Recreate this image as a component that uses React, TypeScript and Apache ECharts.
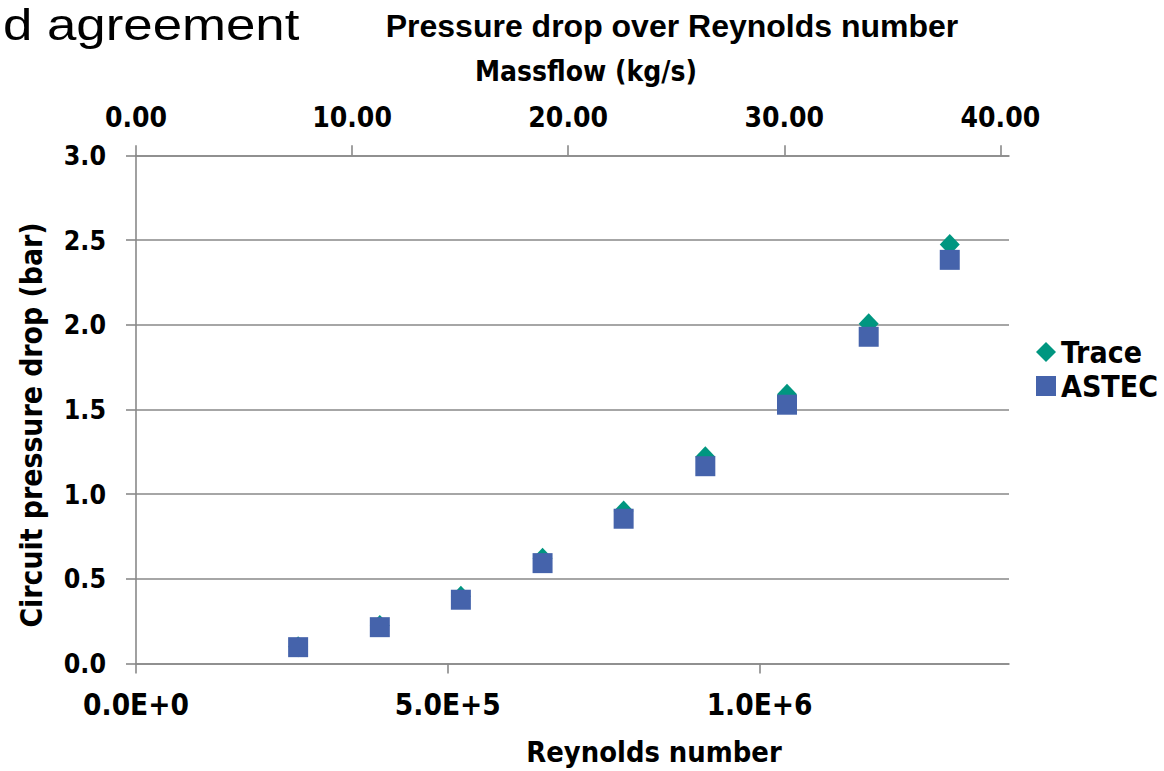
import React, { useEffect, useRef } from "react";
import * as echarts from "echarts";

// Data
const reynolds = [260000, 391000, 521000, 652000, 782000, 913000, 1044000, 1175000, 1305000];
const traceDrop = [0.1, 0.225, 0.398, 0.622, 0.9, 1.221, 1.589, 2.006, 2.474];
const astecDrop = [0.097, 0.215, 0.377, 0.593, 0.855, 1.165, 1.528, 1.929, 2.383];
const seriesNames = ["Trace", "ASTEC"];
const bottomTicks = [0, 500000, 1000000];
const topTicks = [0, 10, 20, 30, 40];

const FONT = "'DejaVu Sans Condensed', 'DejaVu Sans', sans-serif";
const AXIS_GREY = "#898989";

function sci(v: number): string {
  if (v === 0) return "0.0E+0";
  const e = Math.floor(Math.log10(Math.abs(v)));
  const m = v / Math.pow(10, e);
  return m.toFixed(1) + "E+" + e;
}

export default function App() {
  const ref = useRef<HTMLDivElement>(null);
  useEffect(() => {
    if (!ref.current) return;
    const chart = echarts.init(ref.current, undefined, { renderer: "svg" });
    const option: any = {
      animation: false,
      backgroundColor: "#ffffff",
      grid: { left: 136, right: 155, top: 155.3, bottom: 107.4, containLabel: false },
      legend: {
        orient: "vertical",
        left: 1031,
        top: 330,
        itemWidth: 20,
        itemHeight: 20,
        itemGap: 0,
        data: seriesNames,
        textStyle: {
          fontFamily: FONT,
          fontWeight: "bold",
          fontSize: 30,
          lineHeight: 34,
          color: "#000",
        },
      },
      xAxis: [
        {
          type: "value",
          position: "bottom",
          min: 0,
          max: 1400000,
          interval: 500000,
          axisLine: { show: true, lineStyle: { color: AXIS_GREY, width: 1.6 } },
          axisTick: { show: true, length: 10, lineStyle: { color: AXIS_GREY, width: 1.6 }, customValues: bottomTicks },
          splitLine: { show: false },
          axisLabel: {
            customValues: bottomTicks,
            formatter: (v: number) => sci(v),
            margin: 26,
            fontFamily: FONT,
            fontWeight: "bold",
            fontSize: 29.5,
            color: "#000",
          },
        },
        {
          type: "value",
          position: "top",
          min: 0,
          max: 40.4,
          interval: 10,
          axisLine: { show: true, lineStyle: { color: AXIS_GREY, width: 1.6 } },
          axisTick: { show: true, length: 10, lineStyle: { color: AXIS_GREY, width: 1.6 }, customValues: topTicks },
          splitLine: { show: false },
          axisLabel: {
            customValues: topTicks,
            formatter: (v: number) => v.toFixed(2),
            margin: 23.7,
            fontFamily: FONT,
            fontWeight: "bold",
            fontSize: 28,
            color: "#000",
          },
        },
      ],
      yAxis: {
        type: "value",
        min: 0,
        max: 3,
        interval: 0.5,
        axisLine: { show: true, lineStyle: { color: AXIS_GREY, width: 1.6 } },
        axisTick: { show: true, length: 10, lineStyle: { color: AXIS_GREY, width: 1.6 } },
        splitLine: { show: true, lineStyle: { color: AXIS_GREY, width: 1.6 } },
        axisLabel: {
          formatter: (v: number) => v.toFixed(1),
          margin: 30,
          fontFamily: FONT,
          fontWeight: "bold",
          fontSize: 26.5,
          color: "#000",
        },
      },
      series: [
        {
          name: seriesNames[0],
          type: "scatter",
          xAxisIndex: 0,
          symbol: "diamond",
          symbolSize: [20, 21],
          itemStyle: { color: "#009680", opacity: 1 },
          data: reynolds.map((x, i) => [x, traceDrop[i]]),
        },
        {
          name: seriesNames[1],
          type: "scatter",
          xAxisIndex: 0,
          symbol: "rect",
          symbolSize: 20,
          itemStyle: { color: "#4563ab", opacity: 1 },
          data: reynolds.map((x, i) => [x, astecDrop[i]]),
        },
      ],
      graphic: [
        {
          type: "text",
          x: 3,
          y: 25,
          scaleX: 1.2,
          style: {
            text: "d agreement",
            x: 0,
            y: 0,
            align: "left",
            verticalAlign: "middle",
            fontFamily: "'Liberation Sans', Arial, sans-serif",
            fontSize: 44,
            lineHeight: 44,
            fill: "#000",
          },
        },
        {
          type: "text",
          x: 672,
          y: 26,
          style: {
            text: "Pressure drop over Reynolds number",
            align: "center",
            verticalAlign: "middle",
            fontFamily: "'Liberation Sans', Arial, sans-serif",
            fontWeight: "bold",
            fontSize: 32,
            fill: "#000",
          },
        },
        {
          type: "text",
          x: 586,
          y: 71.5,
          style: {
            text: "Massflow (kg/s)",
            align: "center",
            verticalAlign: "middle",
            fontFamily: FONT,
            fontWeight: "bold",
            fontSize: 28,
            fill: "#000",
          },
        },
        {
          type: "text",
          x: 654,
          y: 752,
          style: {
            text: "Reynolds number",
            align: "center",
            verticalAlign: "middle",
            fontFamily: FONT,
            fontWeight: "bold",
            fontSize: 28.8,
            fill: "#000",
          },
        },
        {
          type: "text",
          x: 31.3,
          y: 425,
          rotation: Math.PI / 2,
          style: {
            text: "Circuit pressure drop (bar)",
            x: 0,
            y: 0,
            align: "center",
            verticalAlign: "middle",
            fontFamily: FONT,
            fontWeight: "bold",
            fontSize: 29.8,
            fill: "#000",
          },
        },
      ],
    };
    chart.setOption(option);
    return () => chart.dispose();
  }, []);
  return (
    <div
      ref={ref}
      style={{ position: "fixed", left: 0, top: 0, width: 1164, height: 771, background: "#fff" }}
    />
  );
}
